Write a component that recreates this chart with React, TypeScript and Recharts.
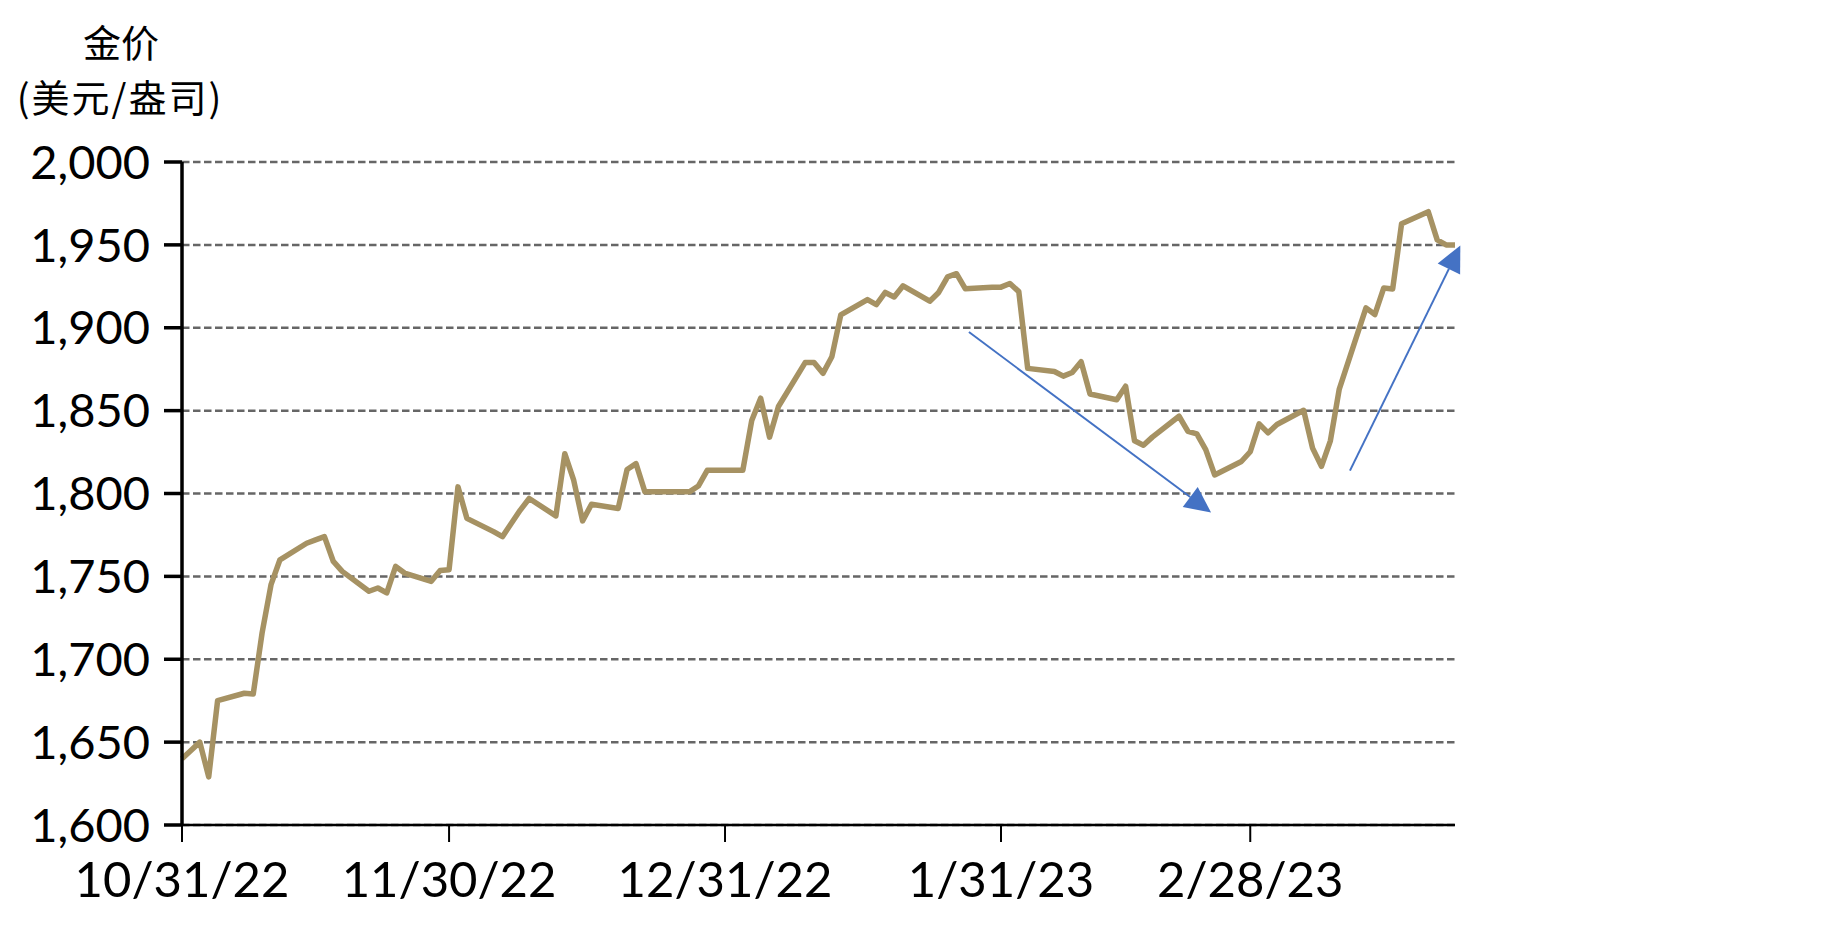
import { LineChart, Line, XAxis, YAxis, CartesianGrid, ReferenceLine } from "recharts";

// trading days, holidays carried at previous value
const dates = [
  "2022-10-31", "2022-11-01", "2022-11-02", "2022-11-03", "2022-11-04",
  "2022-11-07", "2022-11-08", "2022-11-09", "2022-11-10", "2022-11-11",
  "2022-11-14", "2022-11-15", "2022-11-16", "2022-11-17", "2022-11-18",
  "2022-11-21", "2022-11-22", "2022-11-23", "2022-11-24", "2022-11-25",
  "2022-11-28", "2022-11-29", "2022-11-30", "2022-12-01", "2022-12-02",
  "2022-12-05", "2022-12-06", "2022-12-07", "2022-12-08", "2022-12-09",
  "2022-12-12", "2022-12-13", "2022-12-14", "2022-12-15", "2022-12-16",
  "2022-12-19", "2022-12-20", "2022-12-21", "2022-12-22", "2022-12-23",
  "2022-12-26", "2022-12-27", "2022-12-28", "2022-12-29", "2022-12-30",
  "2023-01-02", "2023-01-03", "2023-01-04", "2023-01-05", "2023-01-06",
  "2023-01-09", "2023-01-10", "2023-01-11", "2023-01-12", "2023-01-13",
  "2023-01-16", "2023-01-17", "2023-01-18", "2023-01-19", "2023-01-20",
  "2023-01-23", "2023-01-24", "2023-01-25", "2023-01-26", "2023-01-27",
  "2023-01-30", "2023-01-31", "2023-02-01", "2023-02-02", "2023-02-03",
  "2023-02-06", "2023-02-07", "2023-02-08", "2023-02-09", "2023-02-10",
  "2023-02-13", "2023-02-14", "2023-02-15", "2023-02-16", "2023-02-17",
  "2023-02-20", "2023-02-21", "2023-02-22", "2023-02-23", "2023-02-24",
  "2023-02-27", "2023-02-28", "2023-03-01", "2023-03-02", "2023-03-03",
  "2023-03-06", "2023-03-07", "2023-03-08", "2023-03-09", "2023-03-10",
  "2023-03-13", "2023-03-14", "2023-03-15", "2023-03-16", "2023-03-17",
  "2023-03-20", "2023-03-21", "2023-03-22", "2023-03-23",
];

const prices = [
  1640, 1645, 1650, 1629, 1675,
  1679.5, 1679, 1716, 1745, 1760,
  1770, 1772, 1774, 1759, 1753,
  1741, 1743, 1740, 1756, 1752,
  1747, 1753.5, 1754, 1804, 1785,
  1777, 1774, 1782, 1790, 1797,
  1786.5, 1824, 1808, 1783.5, 1793.5,
  1791, 1814.5, 1818, 1801, 1801,
  1801, 1801, 1804.5, 1814, 1814,
  1814, 1844, 1857.5, 1834, 1852.5,
  1879, 1879, 1872.5, 1882.5, 1907.7,
  1917, 1914, 1921.3, 1918.6, 1925.3,
  1916, 1921.3, 1930.7, 1932.6, 1923.5,
  1924.5, 1924.5, 1926.7, 1921.8, 1875.5,
  1873.6, 1870.8, 1873, 1879.5, 1860,
  1856.6, 1864.7, 1831.8, 1829.1, 1834,
  1846.6, 1837.5, 1836, 1826.5, 1811.2,
  1819.3, 1825.2, 1842, 1836.6, 1841.6,
  1850.2, 1827.4, 1816.4, 1831.8, 1863,
  1912, 1908, 1924, 1923.4, 1962.8,
  1970, 1953, 1950, 1950,
];

const yTicks = [1600, 1650, 1700, 1750, 1800, 1850, 1900, 1950, 2000];
const xTickDates = ["2022-10-31", "2022-11-30", "2022-12-31", "2023-01-31", "2023-02-28"];
const xTickLabels = ["10/31/22", "11/30/22", "12/31/22", "1/31/23", "2/28/23"];

// trend arrows: [startDay, startPrice, endDay, endPrice]
const arrows = [
  [88.4, 1897.4, 115.6, 1788.5],
  [131.2, 1813.8, 143.6, 1949.6],
];

const START = Date.parse(dates[0]);
const dayOf = (d: string) => Math.round((Date.parse(d) - START) / 86400000);

const data = dates.map((d, i) => ({ day: dayOf(d), price: prices[i] }));
const xTicks = xTickDates.map(dayOf);
const lastDay = dayOf(dates[dates.length - 1]);

const NUM_FONT = "Lato, 'DejaVu Sans', sans-serif";
const CJK_FONT = "'Noto Sans CJK SC', sans-serif";
const BLUE = "#4472C4";

function Arrow(props: any) {
  const { x1, y1, x2, y2 } = props;
  const dx = x2 - x1;
  const dy = y2 - y1;
  const len = Math.hypot(dx, dy) || 1;
  const ux = dx / len;
  const uy = dy / len;
  const L = 26;
  const W = 12.5;
  const bx = x2 - ux * L;
  const by = y2 - uy * L;
  return (
    <g>
      <line x1={x1} y1={y1} x2={bx} y2={by} stroke={BLUE} strokeWidth={2} />
      <polygon
        points={`${x2},${y2} ${bx - uy * W},${by + ux * W} ${bx + uy * W},${by - ux * W}`}
        fill={BLUE}
      />
    </g>
  );
}

export default function App() {
  return (
    <div style={{ position: "absolute", left: 0, top: 0, width: 1832, height: 950, background: "#fff" }}>
      <LineChart width={1832} height={950} data={data} margin={{ top: 162, right: 377, bottom: 0, left: 0 }}>
        <CartesianGrid
          horizontal
          vertical={false}
          stroke="#666"
          strokeWidth={2.5}
          strokeDasharray="7.5 3.5"
        />
        <XAxis
          type="number"
          dataKey="day"
          domain={[0, lastDay]}
          ticks={xTicks}
          interval={0}
          height={125}
          tickSize={17}
          tickMargin={20}
          axisLine={{ stroke: "#000", strokeWidth: 2.5 }}
          tickLine={{ stroke: "#000", strokeWidth: 2 }}
          tick={{ fontSize: 49, fill: "#000", fontFamily: NUM_FONT }}
          tickFormatter={(v: number) => xTickLabels[xTicks.indexOf(v)] ?? ""}
        />
        <YAxis
          type="number"
          domain={[1600, 2000]}
          ticks={yTicks}
          interval={0}
          width={182}
          tickSize={18}
          tickMargin={14}
          axisLine={{ stroke: "#000", strokeWidth: 3.5 }}
          tickLine={{ stroke: "#000", strokeWidth: 3.5 }}
          tick={{ fontSize: 47, fill: "#000", fontFamily: NUM_FONT }}
          tickFormatter={(v: number) => v.toLocaleString("en-US")}
        />
        <Line
          type="linear"
          dataKey="price"
          stroke="#A69263"
          strokeWidth={5.5}
          strokeLinejoin="round"
          dot={false}
          activeDot={false}
          isAnimationActive={false}
        />
        {arrows.map((a, i) => (
          <ReferenceLine
            key={`arrow-${i}`}
            segment={[
              { x: a[0], y: a[1] },
              { x: a[2], y: a[3] },
            ]}
            ifOverflow="visible"
            shape={(p: any) => <Arrow {...p} />}
          />
        ))}
        <text x={121} y={40} textAnchor="middle" dominantBaseline="central" fontSize={38} fontFamily={CJK_FONT} fill="#000">
          金价
        </text>
        <text x={120} y={95} textAnchor="middle" dominantBaseline="central" fontSize={38} letterSpacing={2} fontFamily={CJK_FONT} fill="#000">
          (美元/盎司)
        </text>
      </LineChart>
    </div>
  );
}
